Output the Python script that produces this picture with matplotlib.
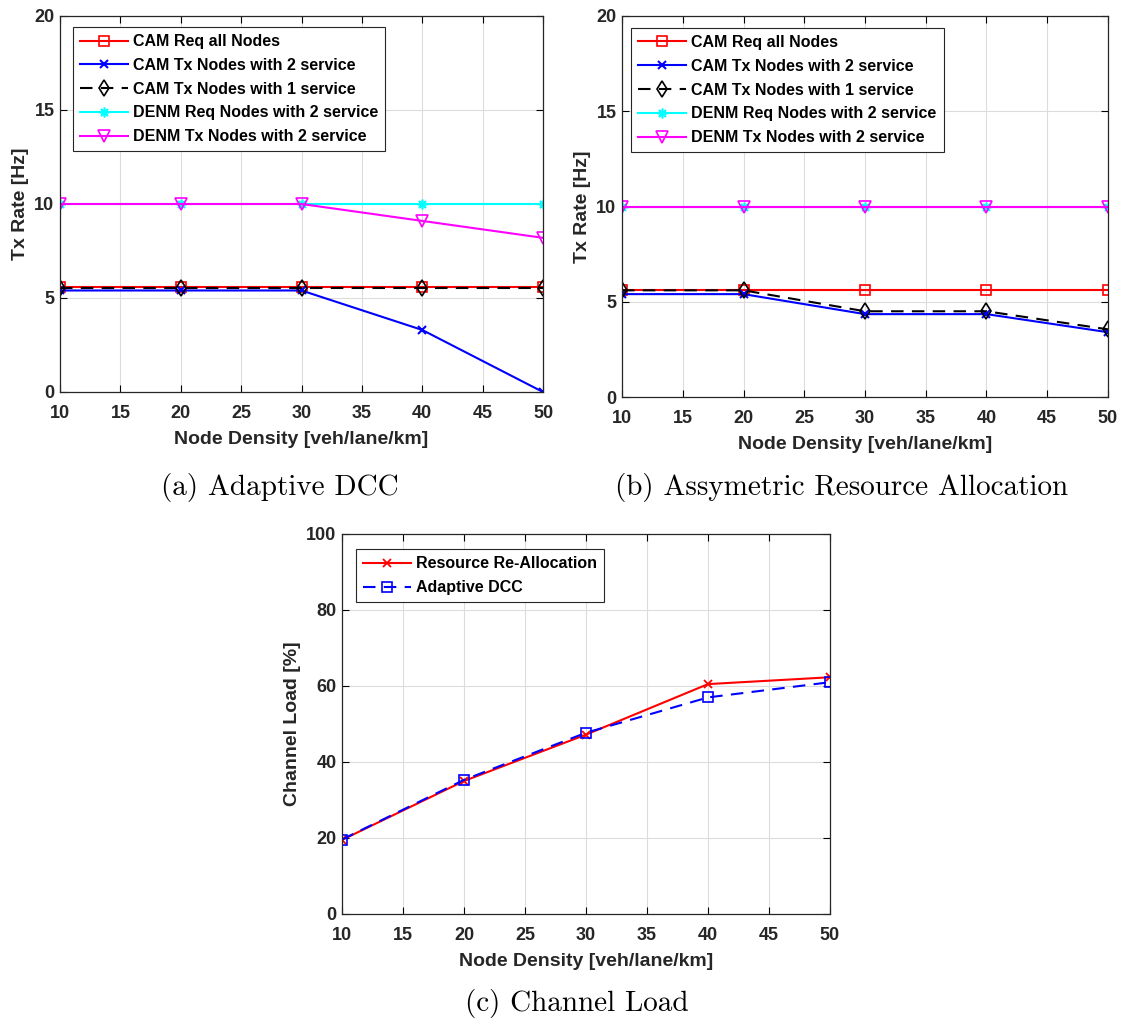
import matplotlib
matplotlib.use("Agg")
import matplotlib.pyplot as plt

# ---- data ----
density = [10, 20, 30, 40, 50]

a_cam_req = [5.6, 5.6, 5.6, 5.6, 5.6]
a_cam_tx2 = [5.4, 5.4, 5.4, 3.3, 0.0]
a_cam_tx1 = [5.55, 5.55, 5.55, 5.55, 5.55]
a_denm_req = [10, 10, 10, 10, 10]
a_denm_tx = [10, 10, 10, 9.1, 8.2]

b_cam_req = [5.6, 5.6, 5.6, 5.6, 5.6]
b_cam_tx2 = [5.4, 5.4, 4.35, 4.35, 3.4]
b_cam_tx1 = [5.6, 5.6, 4.5, 4.5, 3.55]
b_denm_req = [10, 10, 10, 10, 10]
b_denm_tx = [10, 10, 10, 10, 10]

c_rra = [19.5, 35.0, 47.2, 60.5, 62.3]
c_adcc = [19.6, 35.3, 47.7, 57.0, 61.0]

labels_ab = ["CAM Req all Nodes", "CAM Tx Nodes with 2 service",
             "CAM Tx Nodes with 1 service", "DENM Req Nodes with 2 service",
             "DENM Tx Nodes with 2 service"]
labels_c = ["Resource Re-Allocation", "Adaptive DCC"]
xticks = [10, 15, 20, 25, 30, 35, 40, 45, 50]
xlabel = "Node Density [veh/lane/km]"

plt.rcParams['font.family'] = ['Liberation Sans', 'DejaVu Sans']
plt.rcParams['font.weight'] = 'bold'

W, H = 1126, 1025
fig = plt.figure(figsize=(W / 100, H / 100), dpi=100)

def ax_at(l, t, r, b):
    return fig.add_axes([l / W, 1 - b / H, (r - l) / W, (b - t) / H])

def style(ax, ylim, yticks, ylabel):
    ax.set_xlim(10, 50)
    ax.set_ylim(*ylim)
    ax.set_xticks(xticks)
    ax.set_yticks(yticks)
    ax.grid(True, color='#dcdcdc', linewidth=0.8)
    ax.set_axisbelow(True)
    ax.tick_params(direction='in', top=True, right=True, labelsize=13,
                   length=5, width=0.8)
    ax.tick_params(axis='x', pad=9.5)
    ax.tick_params(axis='y', pad=4)
    for lab in ax.get_xticklabels() + ax.get_yticklabels():
        lab.set_fontweight('bold')
        lab.set_color('#262626')
    for s in ax.spines.values():
        s.set_color('#262626')
        s.set_linewidth(0.9)
    ax.set_xlabel(xlabel, fontsize=14, fontweight='bold', color='#262626', labelpad=6)
    ax.set_ylabel(ylabel, fontsize=14, fontweight='bold', color='#262626', labelpad=4)

ASTER = (8, 2, 0)

def plot_five(ax, req, tx2, tx1, dreq, dtx):
    ax.plot(density, req, color='red', marker='s', mfc='none', ms=6.5, lw=1.5, mew=1.2, label=labels_ab[0])
    ax.plot(density, tx2, color='blue', marker='x', ms=6, lw=1.5, mew=1.5, label=labels_ab[1])
    ax.plot(density, tx1, color='black', ls=(0, (6, 4)), marker='d', mfc='none', ms=8, lw=1.5, mew=1.2, label=labels_ab[2])
    ax.plot(density, dreq, color='cyan', marker=ASTER, ms=7, lw=1.5, mew=1.2, label=labels_ab[3])
    ax.plot(density, dtx, color='magenta', marker='v', mfc='none', ms=8.5, lw=1.5, mew=1.2, label=labels_ab[4])

def legend(ax, anchor):
    leg = ax.legend(loc='upper left', bbox_to_anchor=anchor, borderaxespad=0,
                    fancybox=False, edgecolor='#262626', framealpha=1,
                    prop={'size': 11.5, 'weight': 'bold'}, handlelength=3.0,
                    handletextpad=0.3, labelspacing=0.55, borderpad=0.45)
    leg.get_frame().set_linewidth(0.8)

# (a)
axa = ax_at(60, 16, 543, 392)
plot_five(axa, a_cam_req, a_cam_tx2, a_cam_tx1, a_denm_req, a_denm_tx)
style(axa, (0, 20), [0, 5, 10, 15, 20], "Tx Rate [Hz]")
legend(axa, (0.027, 0.971))

# (b)
axb = ax_at(622, 16, 1108, 397)
plot_five(axb, b_cam_req, b_cam_tx2, b_cam_tx1, b_denm_req, b_denm_tx)
style(axb, (0, 20), [0, 5, 10, 15, 20], "Tx Rate [Hz]")
legend(axb, (0.019, 0.969))

# (c)
axc = ax_at(342, 534, 830, 914)
axc.plot(density, c_rra, color='red', marker='x', ms=6, lw=1.5, mew=1.3, label=labels_c[0])
axc.plot(density, c_adcc, color='blue', ls=(0, (6, 4)), marker='s', mfc='none', ms=6.5, lw=1.5, mew=1.2, label=labels_c[1])
style(axc, (0, 100), [0, 20, 40, 60, 80, 100], "Channel Load [%]")
legend(axc, (0.028, 0.96))

cap = dict(fontsize=21, family='cmr10', ha='center', va='center', weight='normal')
fig.text(280 / W, 1 - 488 / H, "(a) Adaptive DCC", **cap)
fig.text(842 / W, 1 - 488 / H, "(b) Assymetric Resource Allocation", **cap)
fig.text(577 / W, 1 - 1003 / H, "(c) Channel Load", **cap)

fig.savefig("out.png", dpi=100)
